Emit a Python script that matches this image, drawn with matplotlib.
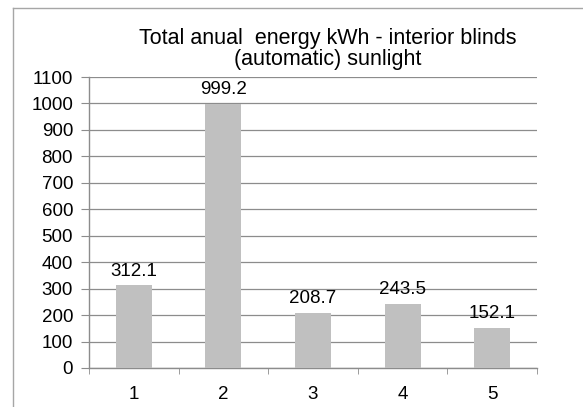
import matplotlib
matplotlib.use('Agg')
import matplotlib.pyplot as plt
from matplotlib.lines import Line2D
import numpy as np

plt.rcParams['font.family'] = ['Liberation Sans', 'DejaVu Sans']

# Data
categories = ['1', '2', '3', '4', '5']
energy_kwh = [312.1, 999.2, 208.7, 243.5, 152.1]
y_ticks = list(range(0, 1101, 100))
title_lines = ['Total anual  energy kWh - interior blinds', '(automatic) sunlight']

W, H = 583, 407
fig = plt.figure(figsize=(W/100, H/100), dpi=100)
ax = fig.add_axes([89/W, 1 - 368/H, (537 - 89)/W, (368 - 77)/H])

x = np.arange(1, len(categories) + 1)
ax.bar(x, energy_kwh, width=0.4, color='#C0C0C0', zorder=3)
for xi, v in zip(x, energy_kwh):
    ax.annotate('%.1f' % v, (xi, v), xytext=(0, 4), textcoords='offset points',
                ha='center', va='bottom', fontsize=13.5, color='black', zorder=4)

ax.set_xlim(0.5, len(categories) + 0.5)
ax.set_ylim(0, 1100)
ax.set_yticks(y_ticks)
ax.set_yticklabels([str(t) for t in y_ticks])
ax.set_xticks(x)
ax.set_xticklabels(categories)
ax.set_xticks(np.arange(0.5, len(categories) + 1), minor=True)
ax.yaxis.grid(True, color='#8C8C8C', linewidth=0.9, zorder=0)

for side in ['top', 'right']:
    ax.spines[side].set_visible(False)
for side in ['left', 'bottom']:
    ax.spines[side].set_color('#8C8C8C')
    ax.spines[side].set_linewidth(1.0)

ax.tick_params(axis='y', length=5.5, color='#8C8C8C', labelsize=13.5, pad=6)
ax.tick_params(axis='x', which='major', length=0, labelsize=13.5, pad=13)
ax.tick_params(axis='x', which='minor', length=4.5, color='#8C8C8C')

# title as two lines with baselines matched to the reference
for line, base in zip(title_lines, [44, 65]):
    fig.text(328/W, 1 - base/H, line, ha='center', va='baseline', fontsize=15.5)

# chart frame: only left and top edges fall inside the image
fig.add_artist(Line2D([13/W, 13/W], [0, 1 - 8/H], color='#A6A6A6', lw=1.0))
fig.add_artist(Line2D([13/W, 1], [1 - 8/H, 1 - 8/H], color='#A6A6A6', lw=1.0))

fig.savefig('out.png', dpi=100)
